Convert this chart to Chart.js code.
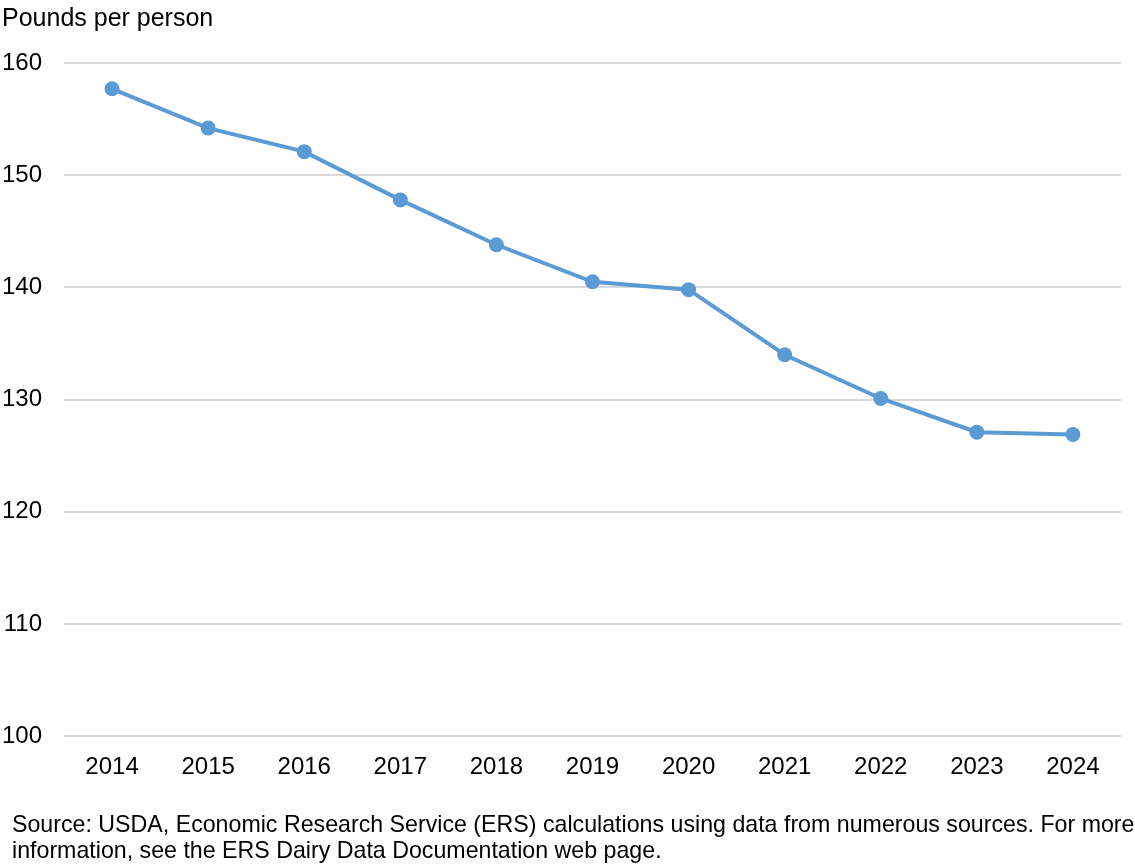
<!DOCTYPE html>
<html>
<head>
<meta charset="utf-8">
<script src="https://cdn.jsdelivr.net/npm/chart.js@4.4.1/dist/chart.umd.min.js"></script>
<style>
  html, body { margin: 0; padding: 0; background: #fff; }
  #chart { display: block; }
</style>
</head>
<body>
<canvas id="chart" width="1135" height="864"></canvas>
<script>
// fluid milk availability, pounds per person
const years = ["2014", "2015", "2016", "2017", "2018", "2019", "2020", "2021", "2022", "2023", "2024"];
const poundsPerPerson = [157.7, 154.2, 152.1, 147.8, 143.8, 140.5, 139.8, 134.0, 130.1, 127.1, 126.9];
const yTicks = [100, 110, 120, 130, 140, 150, 160];

const titleText = "Pounds per person";
const sourceLines = [
  "Source: USDA, Economic Research Service (ERS) calculations using data from numerous sources. For more",
  "information, see the ERS Dairy Data Documentation web page."
];

const font = "Arial, 'Liberation Sans', sans-serif";

// source note under the chart, drawn as plain canvas text
const sourceNote = {
  id: "sourceNote",
  afterDraw(chart) {
    const c = chart.ctx;
    c.save();
    c.fillStyle = "#000";
    c.font = "23.2px " + font;
    c.textBaseline = "middle";
    c.textAlign = "left";
    sourceLines.forEach((line, i) => c.fillText(line, 12, 826 + i * 26));
    c.restore();
  }
};

const ctx = document.getElementById("chart").getContext("2d");
new Chart(ctx, {
  type: "line",
  data: {
    labels: years,
    datasets: [{
      data: poundsPerPerson,
      borderColor: "#5b9bd5",
      backgroundColor: "#5b9bd5",
      borderWidth: 4,
      pointRadius: 5.5,
      pointHoverRadius: 5.5,
      tension: 0
    }]
  },
  options: {
    responsive: false,
    animation: false,
    devicePixelRatio: 1,
    layout: { padding: { left: 2, right: 14, top: 0, bottom: 73 } },
    plugins: {
      legend: { display: false },
      tooltip: { enabled: false },
      title: {
        display: true,
        text: titleText,
        align: "start",
        color: "#000",
        font: { family: font, size: 25, weight: "normal", lineHeight: 1.2 },
        padding: { top: 4, bottom: 29 }
      }
    },
    scales: {
      x: {
        offset: true,
        grid: { display: false },
        border: { display: false },
        ticks: {
          color: "#000",
          font: { family: font, size: 24 },
          padding: 9,
          maxRotation: 0
        }
      },
      y: {
        min: 100,
        max: 160,
        afterBuildTicks: (axis) => { axis.ticks = yTicks.map(v => ({ value: v })); },
        afterFit: (axis) => { axis.width = 62; },
        grid: { color: "#d9d9d9", lineWidth: 2, drawTicks: false },
        border: { display: false },
        ticks: {
          color: "#000",
          font: { family: font, size: 24 },
          padding: 22
        }
      }
    }
  },
  plugins: [sourceNote]
});
</script>
</body>
</html>
